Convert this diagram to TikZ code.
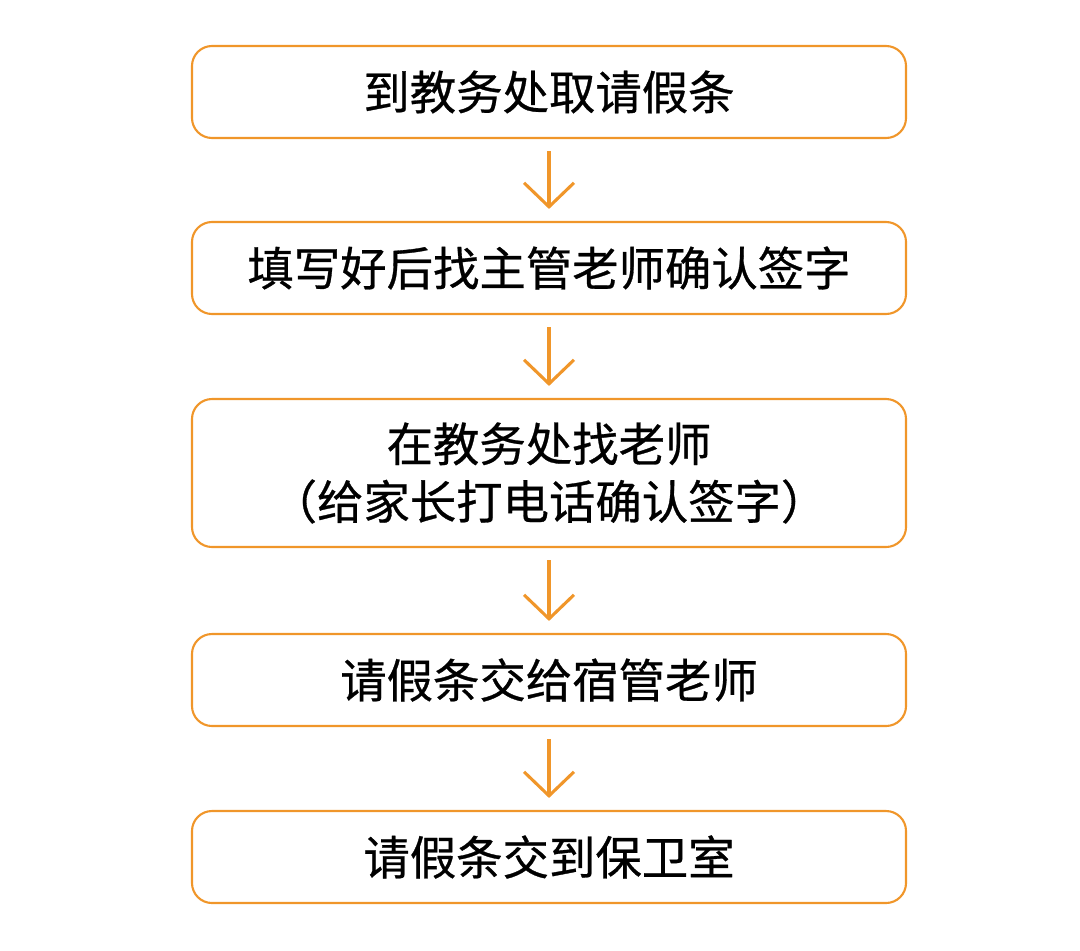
\documentclass[tikz,border=0pt]{standalone}
\usepackage{fontspec}
\setmainfont{Noto Sans CJK SC}[FakeBold=0.6]
\usetikzlibrary{arrows.meta, positioning}
\definecolor{orng}{HTML}{F0962A}

\begin{document}
\begin{tikzpicture}[
  stepbox/.style={draw=orng, line width=1.5pt, rounded corners=0.5cm,
    minimum width=17.85cm, align=center, font=\fontsize{33}{41}\selectfont},
  flow/.style={draw=orng, line width=2.2pt, shorten <=0.3cm, shorten >=0.3cm,
    -{Straight Barb[length=0.6cm, width=1.25cm, line width=2.2pt]}}
]
  \useasboundingbox (0,0) rectangle (27,-23.75);

  \node[stepbox, minimum height=2.3cm] (s1) at (13.725,-2.3) {到教务处取请假条};
  \node[stepbox, minimum height=2.3cm] (s2) at (13.725,-6.7) {填写好后找主管老师确认签字};
  \node[stepbox, minimum height=3.7cm] (s3) at (13.725,-11.825) {在教务处找老师\\（给家长打电话确认签字）};
  \node[stepbox, minimum height=2.3cm] (s4) at (13.725,-17.0) {请假条交给宿管老师};
  \node[stepbox, minimum height=2.3cm] (s5) at (13.725,-21.425) {请假条交到保卫室};

  \draw[flow] (s1) -- (s2);
  \draw[flow] (s2) -- (s3);
  \draw[flow] (s3) -- (s4);
  \draw[flow] (s4) -- (s5);
\end{tikzpicture}
\end{document}
